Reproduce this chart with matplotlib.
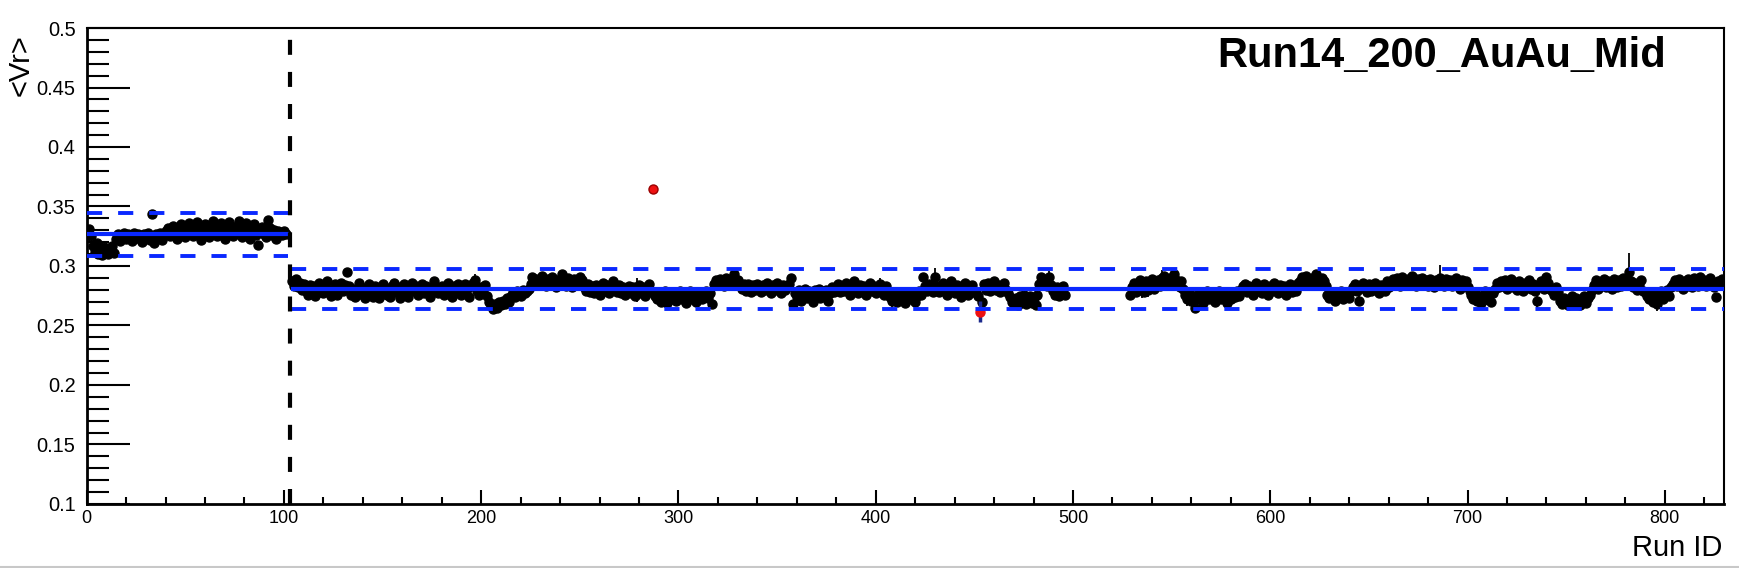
import matplotlib
matplotlib.use("Agg")
import matplotlib.pyplot as plt
from matplotlib.lines import Line2D
from matplotlib.ticker import MultipleLocator, FormatStrFormatter
import numpy as np

plt.rcParams['font.family'] = ['Liberation Sans', 'DejaVu Sans']

# ---------------- data (values in units of 1e-3) ----------------
# first period: run IDs 0..101
sec1_start = 0
sec1_vals = [
    328, 331, 325, 317, 312, 319, 310, 314, 309, 316,
    312, 310, 315, 317, 311, 323, 327, 321, 325, 328,
    323, 327, 325, 321, 328, 324, 327, 323, 320, 327,
    325, 328, 322, 344, 319, 327, 324, 328, 322, 326,
    329, 332, 325, 330, 334, 326, 323, 332, 335, 327,
    324, 331, 336, 328, 325, 332, 337, 327, 322, 331,
    335, 328, 324, 333, 338, 330, 325, 332, 336, 327,
    323, 331, 337, 333, 325, 329, 334, 338, 330, 324,
    332, 336, 327, 323, 331, 335, 326, 318, 329, 333,
    327, 324, 339, 332, 326, 330, 323, 329, 327, 326,
    329, 327,
]

# second period, block A: run IDs 104..496 (None = flagged run, drawn as outlier)
secA_start = 104
secA_vals = [
    287, 283, 289, 282, 286, 280,
    285, 279, 276, 284, 278, 283, 275, 281, 286, 278,
    277, 283, 287, 280, 275, 279, 285, 276, 282, 286,
    279, 284, 295, 283, 276, 281, 274, 279, 286, 282,
    276, 273, 281, 285, 278, 274, 283, 279, 273, 278,
    285, 281, 276, 280, 274, 283, 286, 278, 282, 273,
    279, 285, 277, 274, 282, 286, 279, 283, 276, 281,
    285, 277, 283, 279, 274, 281, 287, 282, 277, 280,
    283, 276, 281, 286, 279, 274, 283, 278, 285, 281,
    276, 280, 285, 281, 274, 283, 286, 288, 279, 276,
    282, 278, 284, 275, 270, 266, 264, 268, 265, 270,
    267, 271, 268, 273, 270, 275, 278, 274, 279, 276,
    275, 280, 277, 279, 281, 285, 291, 286, 289, 284,
    288, 292, 285, 283, 289, 284, 291, 287, 282, 286,
    289, 293, 286, 283, 290, 285, 282, 289, 286, 284,
    291, 288, 282, 279, 285, 278, 283, 277, 284, 280,
    276, 283, 286, 279, 284, 277, 281, 287, 282, 278,
    284, 277, 282, 276, 280, 283, 277, 282, 275, 280,
    284, 277, 282, 275, 280, 285, 278, None, 275, 272,
    277, 270, 274, 279, 269, 276, 272, 278, 274, 271,
    276, 279, 272, 277, 269, 274, 279, 272, 276, 270,
    278, 274, 272, 276, 279, 273, 277, 268, 285, 288,
    284, 289, 286, 283, 290, 287, 284, 289, 293, 285,
    288, 283, 281, 285, 279, 285, 282, 278, 284, 280,
    285, 281, 278, 284, 280, 286, 282, 277, 284, 280,
    286, 281, 277, 284, 280, 282, 285, 290, 268, 277,
    274, 280, 271, 277, 281, 273, 279, 275, 270, 280,
    276, 281, 273, 279, 275, 280, 271, 277, 282, 278,
    282, 285, 278, 283, 279, 286, 281, 276, 283, 287,
    281, 277, 284, 279, 283, 276, 281, 286, 279, 283,
    277, 281, 285, 279, 276, 283, 278, 274, 271, 277,
    274, 270, 278, 272, 276, 269, 274, 278, 272, 276,
    270, 275, 279, 276, 291, 283, 279, 285, 281, 278,
    291, 283, 278, 281, 286, 279, 276, 283, 287, 281,
    277, 284, 279, 274, 283, 286, 281, 276, 280, 284,
    279, 277, 275, None, 270, 285, 280, 286, 279, 283,
    287, 280, 284, 278, 283, 286, 280, 277, 274, 270,
    268, 273, 267, 275, 270, 276, 268, 272, 275, 269,
    273, 267, 276, 285, 291, 285, 288, 283, 291, 284,
    279, 276, 282, 275, 278, 283, 276,
]

# second period, block B: run IDs 529..829
secB_start = 529
secB_vals = [
    276, 282, 286, 278, 284, 288, 281, 278, 287, 280, 284,
    289, 281, 285, 288, 283, 290, 292, 285, 284, 290,
    286, 293, 288, 284, 282, 287, 281, 276, 272, 277,
    271, 275, 265, 272, 278, 274, 269, 276, 279, 272,
    277, 273, 270, 276, 279, 272, 277, 274, 269, 276,
    272, 278, 274, 279, 275, 280, 283, 285, 278, 283,
    280, 276, 282, 286, 279, 283, 277, 285, 281, 276,
    283, 279, 286, 281, 277, 284, 279, 283, 276, 281,
    285, 278, 283, 279, 286, 287, 291, 286, 292, 288,
    285, 290, 286, 293, 288, 284, 290, 287, 283, 276,
    273, 278, 275, 271, 277, 274, 279, 272, 276, 277,
    273, 279, 282, 285, 279, 271, 283, 286, 281, 278,
    285, 279, 283, 286, 280, 277, 284, 282, 279, 287,
    282, 285, 289, 284, 290, 286, 283, 291, 287, 284,
    289, 285, 292, 287, 283, 289, 285, 290, 284, 288,
    283, 289, 286, 282, 288, 284, 290, 285, 283, 289,
    284, 288, 283, 286, 290, 284, 281, 288, 283, 287,
    282, 279, 276, 272, 277, 271, 275, 269, 274, 279,
    272, 276, 270, 277, 281, 286, 282, 287, 283, 288,
    281, 285, 289, 282, 286, 280, 287, 284, 279, 286,
    282, 288, 281, 285, 279, 271, 283, 287, 284, 281,
    291, 286, 281, 279, 276, 282, 278, 271, 268, 273,
    270, 267, 272, 275, 268, 273, 270, 267, 272, 275,
    269, 273, 276, 280, 284, 288, 281, 286, 284, 289,
    282, 287, 284, 281, 289, 285, 282, 288, 283, 290,
    286, 288, 295, 287, 282, 286, 280, 284, 288, 279,
    278, 275, 272, 278, 270, 276, 268, 274, 279, 272,
    276, 280, 275, 282, 285, 288, 283, 289, 285, 281,
    287, 283, 289, 285, 282, 290, 286, 283, 291, 285,
    288, 283, 287, 290, 285, 282, 274, 287, 284, 289,
]

# statistical errors (1e-3); runs not listed use the typical small error
err_typical = 2.5
err_runs = [197, 204, 243, 279, 356, 402, 406, 408, 430, 454, 477, 485, 488,
            535, 538, 545, 552, 558, 634, 645, 686, 710, 712, 735, 780, 782, 796, 803, 813]
err_vals = [5.0, 4.0, 3.5, 10.0, 6.0, 4.5, 4.5, 6.0, 7.0, 4.0, 4.5, 4.5, 4.5,
            8.0, 6.0, 7.0, 5.5, 5.5, 5.0, 5.0, 11.0, 4.5, 4.5, 8.0, 6.0, 16.0, 6.0, 5.0, 5.0]

# flagged (outlier) runs
out_runs = [287, 453]
out_vals = [0.365, 0.2616]
out_errs = [0.0012, 0.0090]

# run-period averages and +-3 sigma bands
period_ranges = [(0, 102.5), (103.5, 830)]
period_mean = [0.3268, 0.2805]
band_hi = [0.3449, 0.2975]
band_lo = [0.3086, 0.2636]
band_ranges = [(0, 102), (103.5, 830)]
period_boundary = 103

title_text = "Run14_200_AuAu_Mid"
xlabel_text = "Run ID"
ylabel_text = "<Vr>"

# ---------------- figure ----------------
fig = plt.figure(figsize=(17.4, 5.68), dpi=100)
ax = fig.add_axes([0.0498, 0.1127, 0.9410, 0.8380])

err_map = dict(zip(err_runs, err_vals))


def block(start, vals):
    x = np.arange(start, start + len(vals))
    y = np.array([np.nan if v is None else v / 1000.0 for v in vals])
    e = np.array([err_map.get(int(r), err_typical) / 1000.0 for r in x])
    return x, y, e


for start, vals in [(sec1_start, sec1_vals), (secA_start, secA_vals), (secB_start, secB_vals)]:
    x, y, e = block(start, vals)
    ax.errorbar(x, y, yerr=e, fmt='o', color='black', ms=6.5, elinewidth=1.3,
                capsize=0, zorder=3)

# outliers
ax.errorbar(out_runs[:1], out_vals[:1], yerr=out_errs[:1], fmt='o', mfc='#ee1111',
            mec='#9a0000', ms=6.5, ecolor='#1c2a8c', elinewidth=2, capsize=0, zorder=4)
ax.errorbar(out_runs[1:], out_vals[1:], yerr=out_errs[1:], fmt='none',
            ecolor='#1c2a8c', elinewidth=2.5, capsize=0, zorder=4)
ax.plot(out_runs[1:], out_vals[1:], 'o', mfc='#ee1111', mec='#ee1111', ms=6.5, zorder=5)

blue = '#0a28ff'
for (x0, x1), m in zip(period_ranges, period_mean):
    ax.plot([x0, x1], [m, m], color=blue, lw=3.0, solid_capstyle='butt', zorder=6)
for (x0, x1), hi, lo in zip(band_ranges, band_hi, band_lo):
    for v in (hi, lo):
        ax.plot([x0, x1], [v, v], color=blue, lw=2.8, ls=(0, (3.9, 4.1)),
                dash_capstyle='butt', zorder=6)

ax.plot([period_boundary, period_boundary], [0.1, 0.5], color='black', lw=3,
        ls=(0, (3.6, 4.1)), dash_capstyle='butt', zorder=7)

ax.set_xlim(0, 830)
ax.set_ylim(0.1, 0.5)

ax.xaxis.set_major_locator(MultipleLocator(100))
ax.xaxis.set_minor_locator(MultipleLocator(20))
ax.yaxis.set_major_locator(MultipleLocator(0.05))
ax.yaxis.set_minor_locator(MultipleLocator(0.01))
ax.xaxis.set_major_formatter(FormatStrFormatter('%d'))
ax.yaxis.set_major_formatter(FormatStrFormatter('%g'))

ax.tick_params(axis='x', which='major', direction='in', length=10, width=1.5,
               labelsize=13, pad=4, top=False)
ax.tick_params(axis='x', which='minor', direction='in', length=5, width=1.5, top=False)
ax.tick_params(axis='y', which='major', direction='in', length=31, width=1.5,
               labelsize=14.4, pad=8, right=False)
ax.tick_params(axis='y', which='minor', direction='in', length=16, width=1.5, right=False)

for side in ['left', 'bottom']:
    ax.spines[side].set_linewidth(2.0)
for side in ['top', 'right']:
    ax.spines[side].set_linewidth(1.5)

fig.text(1217 / 1740, 1 - 67 / 568, title_text, fontsize=30, fontweight='bold',
         ha='left', va='baseline')
fig.text(1722 / 1740, 1 - 548 / 568, xlabel_text, fontsize=21, ha='right', va='center')
fig.text(21 / 1740, 1 - 65 / 568, ylabel_text, fontsize=21, rotation=90,
         ha='center', va='center')

fig.add_artist(Line2D([0, 1], [0.002, 0.002], transform=fig.transFigure,
                      color='#c8c8c8', lw=1.5))

fig.savefig('out.png', dpi=100)
